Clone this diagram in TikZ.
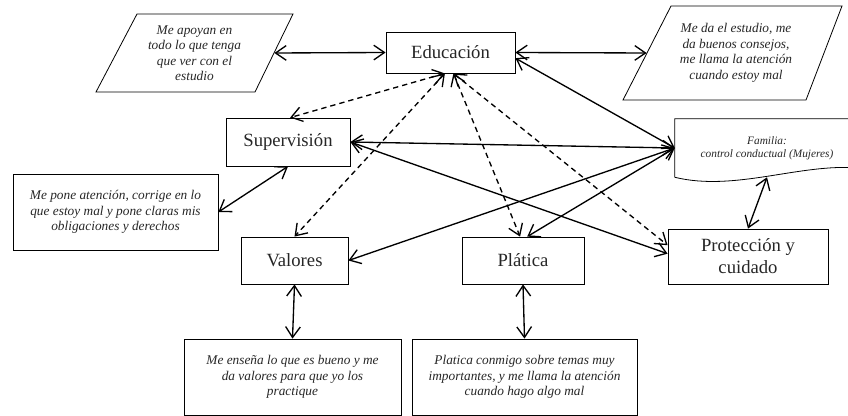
\documentclass[tikz,border=0pt]{standalone}
\usepackage{fontspec}
\setmainfont{Liberation Serif}
\usetikzlibrary{arrows.meta}

\begin{document}
\begin{tikzpicture}[x=0.75pt,y=-0.75pt,
    caja/.style={draw,line width=0.6pt,inner sep=0pt,align=center,text=black!85,font=\fontsize{14}{16.5}\selectfont},
    nota/.style={draw,line width=0.6pt,inner sep=0pt,align=center,text=black!85,font=\fontsize{10}{11.6}\selectfont\itshape},
    flecha/.style={<->,line width=1pt,>={Straight Barb[length=8pt,width=11pt]}},
    punteada/.style={flecha,dash pattern=on 4pt off 3pt}]
    \useasboundingbox (0,0) rectangle (848,416);

    % cajas principales
    \node[caja,minimum width=96.75pt,minimum height=30.75pt] (edu) at (450.5,52.5) {Educación};
    \node[caja,minimum width=93pt,minimum height=36pt] (sup) at (288,142) {Supervisión};
    \node[caja,minimum width=80.25pt,minimum height=35.25pt] (val) at (294.5,260.5) {Valores};
    \node[caja,minimum width=91.5pt,minimum height=35.25pt] (plat) at (523,260.5) {Plática};
    \node[caja,minimum width=120pt,minimum height=41.25pt] (prot) at (748,256.5) {Protección y\\cuidado};

    % familia (documento)
    \node[inner sep=0pt,align=center,text=black!85,font=\fontsize{8.5}{10}\selectfont\itshape,
          minimum width=138pt,minimum height=43.5pt] (fam) at (767,148) {Familia:\\control conductual (Mujeres)};
    \draw[line width=0.6pt] (fam.south west) -- (fam.north west) -- (fam.north east) -- (859,168)
        .. controls (800,163) and (735,192) .. (fam.south west);

    % notas
    \node[nota,draw=none,minimum width=119.25pt,minimum height=58.5pt] (apoyo) at (194.5,53)
        {Me apoyan en\\todo lo que tenga\\que ver con el\\estudio};
    \draw[line width=0.6pt] (137,14) -- (293,14) -- (255,92) -- (96,92) -- cycle;
    \node[nota,draw=none,minimum width=133.5pt,minimum height=70.5pt] (consejo) at (736,53)
        {Me da el estudio, me\\da buenos consejos,\\me llama la atención\\cuando estoy mal};
    \draw[line width=0.6pt] (671,6) -- (842,6) -- (806,100) -- (623,100) -- cycle;
    \node[nota,minimum width=153.75pt,minimum height=57pt] (supnota) at (115.5,212)
        {Me pone atención, corrige en lo\\que estoy mal y pone claras mis\\obligaciones y derechos};
    \node[nota,minimum width=162.75pt,minimum height=57pt] (valnota) at (292.5,377)
        {Me enseña lo que es bueno y me\\da valores para que yo los\\practique};
    \node[nota,minimum width=168.75pt,minimum height=57pt] (platnota) at (524.5,377)
        {Platica conmigo sobre temas muy\\importantes, y me llama la atención\\cuando hago algo mal};

    % flechas
    \draw[flecha] (apoyo.east) -- (edu.west);
    \draw[flecha] (edu.east) -- (consejo.west);
    \draw[flecha] (edu.-5) -- (fam.west);
    \draw[flecha] (sup.east) -- (fam.west);
    \draw[flecha] (sup.east) -- (prot.178);
    \draw[flecha] (val.east) -- (fam.west);
    \draw[flecha] (plat.80) -- (fam.west);
    \draw[flecha] (sup.south) -- (supnota.east);
    \draw[flecha] (fam.south) -- (prot.north);
    \draw[flecha] (val.south) -- (valnota.north);
    \draw[flecha] (plat.south) -- (platnota.north);

    \draw[punteada] (edu.255) -- (sup.85);
    \draw[punteada] (edu.255) -- (val.north);
    \draw[punteada] (edu.278) -- (plat.97);
    \draw[punteada] (edu.278) -- (prot.172);
\end{tikzpicture}
\end{document}
